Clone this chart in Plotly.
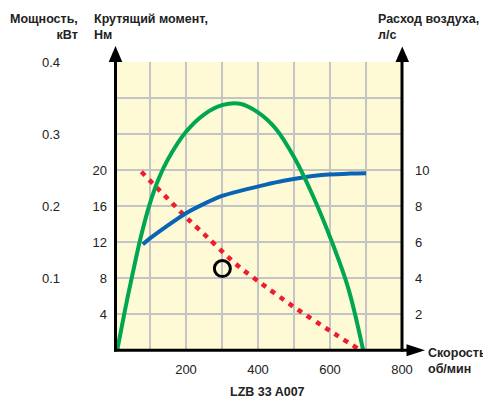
import plotly.graph_objects as go

# ---- data ----
speed_power = [9, 30, 50, 75, 100, 125, 150, 200, 250, 300, 350, 400, 450, 500, 550, 600, 650, 692]
power_kw = [0.0, 0.054, 0.102, 0.158, 0.204, 0.239, 0.265, 0.303, 0.327, 0.340, 0.342, 0.330, 0.307, 0.268, 0.217, 0.157, 0.087, 0.0]

speed_flow = [80, 99, 143, 200, 250, 300, 356, 410, 471, 564, 656, 700]
flow_ls = [5.87, 6.19, 6.83, 7.6, 8.12, 8.56, 8.87, 9.13, 9.4, 9.7, 9.8, 9.82]

speed_torque = [76, 120, 162, 204, 268, 315, 352, 402, 499, 601, 676]
torque_nm = [19.8, 18.0, 16.3, 14.6, 12.2, 10.4, 9.1, 7.6, 4.8, 2.1, 0.2]

point_speed = [301]
point_torque = [9.05]

x_ticks = [0, 100, 200, 300, 400, 500, 600, 700, 800]
x_labels = ["", "", "200", "", "400", "", "600", "", "800"]
torque_ticks = [0, 4, 8, 12, 16, 20, 24, 28, 32]
torque_labels = ["", "4", "8", "12", "16", "20", "", "", ""]
flow_ticks = [0, 2, 4, 6, 8, 10, 12, 14, 16]
flow_labels = ["", "2", "4", "6", "8", "10", "", "", ""]
power_ticks = [0.1, 0.2, 0.3, 0.4]
power_labels = ["0.1", "0.2", "0.3", "0.4"]

FONT = "Liberation Sans, Arial, sans-serif"
TXT = "#222222"
OFF = 8  # page body margin in the browser
W, H = 491 - OFF, 401 - OFF
ML, MR = 10, 89
MT, MB = 62 - OFF, 51
PW = W - ML - MR
PH = H - MT - MB


def px(x):
    return (x - OFF - ML) / PW


def py(y):
    return (H - MB - (y - OFF)) / PH


fig = go.Figure()
fig.add_trace(go.Scatter(x=speed_power, y=power_kw, yaxis="y3", mode="lines",
                         line=dict(color="#00a650", width=4, shape="spline", smoothing=1),
                         hoverinfo="skip"))
fig.add_trace(go.Scatter(x=speed_flow, y=flow_ls, yaxis="y2", mode="lines",
                         line=dict(color="#0a64b4", width=4, shape="spline", smoothing=0.8),
                         hoverinfo="skip"))
fig.add_trace(go.Scatter(x=speed_torque, y=torque_nm, yaxis="y", mode="lines",
                         line=dict(color="#ee1c2e", width=4.5, shape="spline", smoothing=0.6,
                                   dash="5px,6px"),
                         hoverinfo="skip"))
fig.add_trace(go.Scatter(x=point_speed, y=point_torque, yaxis="y", mode="markers",
                         marker=dict(symbol="circle-open", size=16, color="black",
                                     line=dict(width=3, color="black")),
                         hoverinfo="skip"))

x0 = px(114)
grid = "#c4c4c4"
tickfont = dict(family=FONT, size=13, color=TXT)

fig.update_layout(
    width=W, height=H, showlegend=False,
    margin=dict(l=ML, r=MR, t=MT, b=MB, pad=0),
    paper_bgcolor="white", plot_bgcolor="#fffad6",
    xaxis=dict(domain=[x0, 1], range=[0, 800], tickmode="array", tickvals=x_ticks,
               ticktext=x_labels, showgrid=True, gridcolor=grid, gridwidth=1.5,
               zeroline=False, showline=False, ticks="", tickfont=tickfont,
               ticklabelstandoff=10),
    yaxis=dict(range=[0, 32], tickmode="array", tickvals=torque_ticks, ticktext=torque_labels,
               showgrid=True, gridcolor=grid, gridwidth=1.5, zeroline=False, showline=False,
               ticks="", tickfont=tickfont, ticklabelstandoff=6),
    yaxis2=dict(range=[0, 16], overlaying="y", side="right", anchor="x", tickmode="array",
                tickvals=flow_ticks, ticktext=flow_labels, showgrid=False, zeroline=False,
                showline=False, ticks="", tickfont=tickfont, ticklabelstandoff=12),
    yaxis3=dict(range=[0, 0.4], overlaying="y", side="left", anchor="free",
                position=px(60), tickmode="array", tickvals=power_ticks, ticktext=power_labels,
                showgrid=False, zeroline=False, showline=False, ticks="", tickfont=tickfont),
)

# axis lines and arrowheads
axl = dict(color="black", width=3)
fig.add_shape(type="line", xref="paper", yref="paper", x0=px(115.5), x1=px(115.5),
              y0=py(351.5), y1=py(62), line=axl, layer="above")
fig.add_shape(type="line", xref="paper", yref="paper", x0=px(114), x1=px(408),
              y0=py(350.3), y1=py(350.3), line=axl, layer="above")
fig.add_shape(type="line", xref="paper", yref="paper", x0=px(402), x1=px(402),
              y0=py(351.5), y1=py(62), line=axl, layer="above")


def tri(pts):
    return "M " + " L ".join(f"{a},{b}" for a, b in pts) + " Z"


for cx, tip in [(115.5, 46), (402.3, 46.5)]:
    fig.add_shape(type="path", xref="paper", yref="paper",
                  path=tri([(px(cx), py(tip)), (px(cx - 6.8), py(62)), (px(cx + 6.8), py(62))]),
                  fillcolor="black", line=dict(width=0), layer="above")
fig.add_shape(type="path", xref="paper", yref="paper",
              path=tri([(px(425), py(350.3)), (px(406.5), py(344.3)), (px(406.5), py(356.3))]),
              fillcolor="black", line=dict(width=0), layer="above")

bold = dict(family=FONT, size=12.5, color=TXT)
ann = [
    ("<b>Мощность,</b><br><b>кВт</b>", 80, 27.5, "right", "right"),
    ("<b>Крутящий момент,</b><br><b>Нм</b>", 92, 27.5, "left", "left"),
    ("<b>Расход воздуха,</b><br><b>л/с</b>", 375.5, 27.5, "left", "left"),
    ("<b>Скорость,</b><br><b>об/мин</b>", 425.5, 360.5, "left", "left"),
    ("<b>LZB 33 A007</b>", 267, 392, "center", "center"),
]
for text, x, y, xa, al in ann:
    fig.add_annotation(text=text, xref="paper", yref="paper", x=px(x), y=py(y),
                       xanchor=xa, yanchor="middle", align=al, showarrow=False, font=bold)

fig.write_html("out.html")
